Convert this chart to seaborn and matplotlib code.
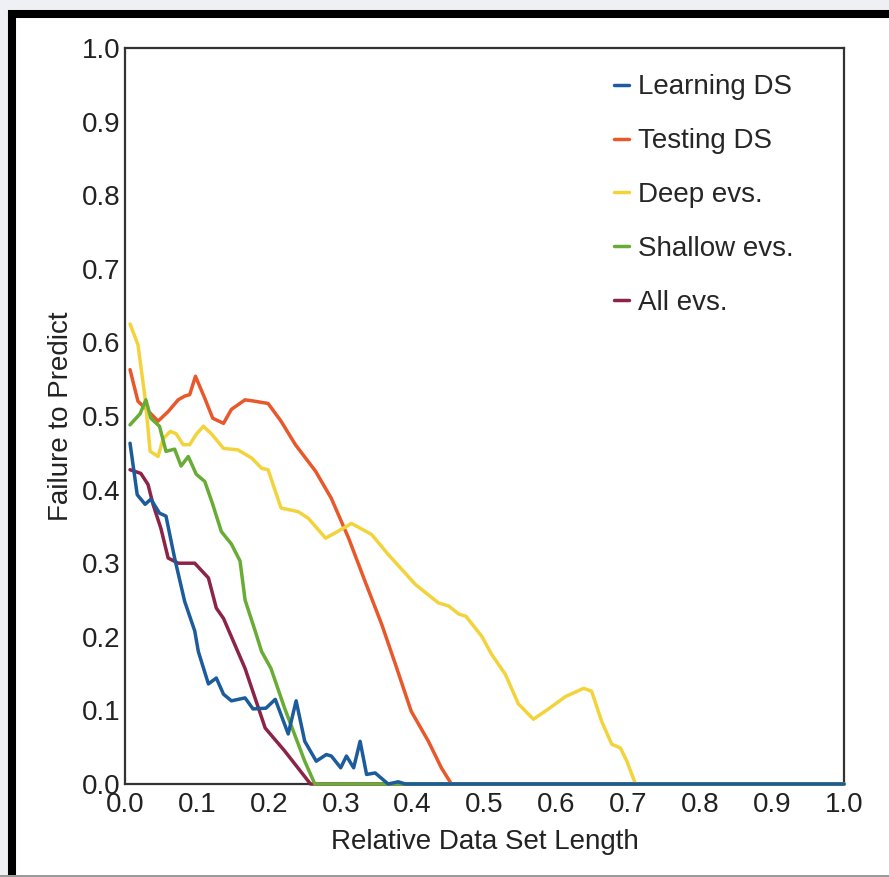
import matplotlib
matplotlib.use("Agg")
import matplotlib.pyplot as plt
from matplotlib.patches import Rectangle
import seaborn as sns
import numpy as np
import pandas as pd

sns.set_style("white")
plt.rcParams['font.family'] = ['Liberation Sans', 'DejaVu Sans']

# series (x = relative data set length, y = failure to predict)
learn_x = [0.007, 0.017, 0.028, 0.036, 0.048, 0.057, 0.069, 0.083, 0.097, 0.102, 0.116, 0.127, 0.137,
           0.148, 0.167, 0.178, 0.196, 0.209, 0.227, 0.238, 0.25, 0.266, 0.28, 0.287, 0.3, 0.308,
           0.318, 0.327, 0.336, 0.348, 0.366, 0.38, 0.39, 1.0]
learn_y = [0.463, 0.393, 0.38, 0.387, 0.368, 0.364, 0.307, 0.248, 0.208, 0.18, 0.136, 0.144, 0.122,
           0.113, 0.117, 0.102, 0.103, 0.115, 0.068, 0.113, 0.058, 0.031, 0.04, 0.038, 0.022, 0.038,
           0.022, 0.058, 0.013, 0.015, 0.0, 0.003, 0.0, 0.0]

test_x = [0.007, 0.018, 0.029, 0.046, 0.06, 0.074, 0.083, 0.09, 0.098, 0.111, 0.122, 0.137, 0.148,
          0.167, 0.181, 0.199, 0.217, 0.237, 0.265, 0.287, 0.311, 0.334, 0.357, 0.376, 0.398, 0.422,
          0.44, 0.454, 1.0]
test_y = [0.563, 0.52, 0.51, 0.493, 0.506, 0.522, 0.527, 0.529, 0.554, 0.524, 0.497, 0.49, 0.509,
          0.522, 0.52, 0.517, 0.493, 0.461, 0.425, 0.388, 0.334, 0.275, 0.217, 0.163, 0.099, 0.058,
          0.022, 0.0, 0.0]

deep_x = [0.007, 0.018, 0.028, 0.035, 0.046, 0.053, 0.063, 0.071, 0.081, 0.09, 0.099, 0.109, 0.12,
          0.137, 0.157, 0.176, 0.19, 0.199, 0.217, 0.241, 0.255, 0.279, 0.292, 0.315, 0.343, 0.366,
          0.404, 0.436, 0.45, 0.464, 0.474, 0.496, 0.51, 0.529, 0.547, 0.568, 0.589, 0.613, 0.638,
          0.649, 0.663, 0.677, 0.689, 0.698, 0.71, 1.0]
deep_y = [0.625, 0.597, 0.524, 0.452, 0.445, 0.469, 0.479, 0.476, 0.461, 0.461, 0.475, 0.486, 0.476,
          0.456, 0.454, 0.443, 0.429, 0.427, 0.375, 0.37, 0.361, 0.334, 0.341, 0.354, 0.339, 0.312,
          0.271, 0.246, 0.242, 0.231, 0.228, 0.201, 0.176, 0.149, 0.109, 0.088, 0.102, 0.119, 0.13,
          0.126, 0.085, 0.054, 0.049, 0.031, 0.0, 0.0]

shallow_x = [0.007, 0.021, 0.029, 0.036, 0.048, 0.057, 0.069, 0.078, 0.088, 0.099, 0.111, 0.122,
             0.134, 0.148, 0.16, 0.167, 0.181, 0.19, 0.203, 0.222, 0.25, 0.264, 1.0]
shallow_y = [0.488, 0.503, 0.522, 0.497, 0.486, 0.452, 0.455, 0.432, 0.445, 0.421, 0.411, 0.38,
             0.343, 0.326, 0.303, 0.25, 0.208, 0.18, 0.157, 0.103, 0.031, 0.0, 0.0]

all_x = [0.007, 0.022, 0.032, 0.039, 0.05, 0.06, 0.074, 0.097, 0.116, 0.127, 0.137, 0.167, 0.195,
         0.222, 0.258, 1.0]
all_y = [0.427, 0.422, 0.407, 0.38, 0.347, 0.307, 0.3, 0.3, 0.28, 0.239, 0.225, 0.157, 0.076,
         0.045, 0.0, 0.0]

labels = ["Learning DS", "Testing DS", "Deep evs.", "Shallow evs.", "All evs."]
colors = ['#1c5b9c', '#e9582b', '#f3d33c', '#68ab35', '#8c2445']
ticks = [0.0, 0.1, 0.2, 0.3, 0.4, 0.5, 0.6, 0.7, 0.8, 0.9, 1.0]

frames = []
for lab, xs, ys in zip(labels, [learn_x, test_x, deep_x, shallow_x, all_x],
                       [learn_y, test_y, deep_y, shallow_y, all_y]):
    frames.append(pd.DataFrame({'x': xs, 'y': ys, 'Series': lab}))
df = pd.concat(frames, ignore_index=True)

fig = plt.figure(figsize=(8.89, 8.77), dpi=100, facecolor='#eef0f3')
# white panel with the thick dark frame (cut off at right and bottom)
fig.patches.append(Rectangle((12 / 889, -0.05), 1.1, 1.05 - 13.5 / 877, transform=fig.transFigure,
                             facecolor='white', edgecolor='black', linewidth=5.8, zorder=-10))
fig.patches.append(Rectangle((0, 0), 1, 2 / 877, transform=fig.transFigure,
                             facecolor='#9a9a9a', edgecolor='none', zorder=-5))
ax = fig.add_axes([125 / 889, 1 - 784 / 877, 719 / 889, 736 / 877])
ax.set_zorder(1)
ax.set_facecolor('white')

sns.lineplot(data=df, x='x', y='y', hue='Series', hue_order=labels,
             palette=dict(zip(labels, colors)), sort=False, estimator=None,
             linewidth=2.5, ax=ax, clip_on=False)

# blue drawn on top, green over the others along the zero line
for line, z in zip(ax.lines, [7, 4, 5, 6, 3]):
    line.set_zorder(z)

ax.set_xlim(0, 1)
ax.set_ylim(0, 1)
ax.set_xticks(ticks)
ax.set_yticks(ticks)
ax.set_xticklabels(['{:.1f}'.format(t) for t in ticks])
ax.set_yticklabels(['{:.1f}'.format(t) for t in ticks])
ax.tick_params(axis='both', length=0, labelsize=20, colors='#222222')
ax.tick_params(axis='x', pad=6)
ax.tick_params(axis='y', pad=3)
for sp in ax.spines.values():
    sp.set_color('#333333')
    sp.set_linewidth(1.6)
    sp.set_zorder(2)

ax.set_xlabel('Relative Data Set Length', fontsize=20, color='#222222', labelpad=8)
ax.set_ylabel('Failure to Predict', fontsize=20, color='#222222', labelpad=6)

h, l = ax.get_legend_handles_labels()
ax.legend(h, l, loc='upper left', bbox_to_anchor=(0.68, 0.964), frameon=False, fontsize=20,
          handlelength=0.55, handletextpad=0.3, labelspacing=1.0, borderpad=0, borderaxespad=0)

plt.savefig('out.png', dpi=100, facecolor=fig.get_facecolor())
